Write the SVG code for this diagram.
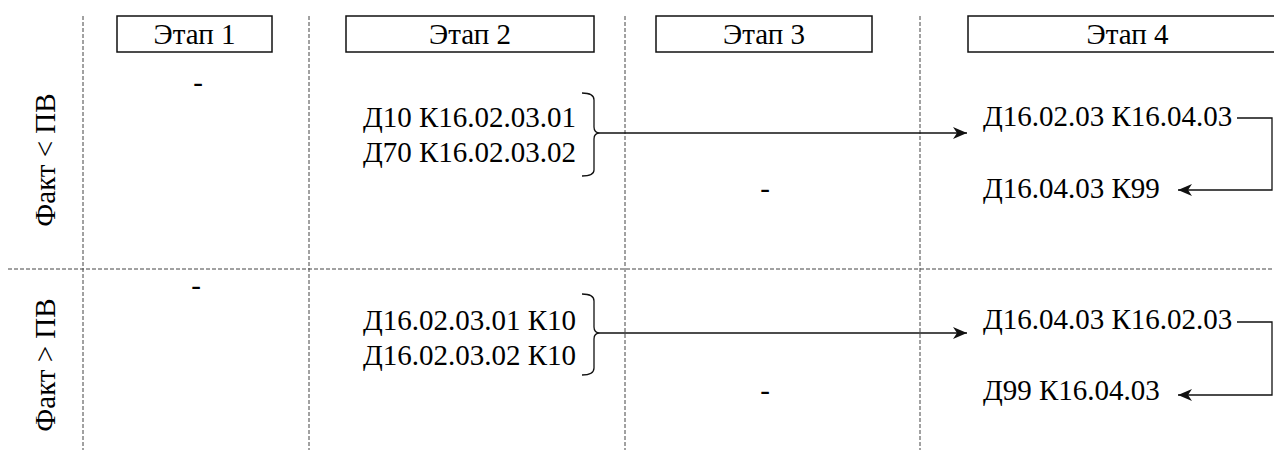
<svg xmlns="http://www.w3.org/2000/svg" width="1274" height="450" viewBox="0 0 1274 450">
<style>
text{font-family:'Liberation Serif','Times New Roman',Times,serif;font-size:29px;fill:#000}
.h{text-anchor:middle}
.box{fill:#fff;stroke:#111;stroke-width:1.5}
.grid{stroke:#444;stroke-width:1;stroke-dasharray:4 2;fill:none}
.ln{stroke:#111;stroke-width:1.3;fill:none}
</style>
<defs>
<marker id="ah" markerUnits="userSpaceOnUse" markerWidth="16" markerHeight="14" refX="15" refY="7" orient="auto">
<path d="M1,1 L15,7 L1,13 L5,7 Z" fill="#111"/>
</marker>
</defs>
<rect width="1274" height="450" fill="#fff"/>
<g id="grid">
<line class="grid" x1="83" y1="16" x2="83" y2="450"/>
<line class="grid" x1="309" y1="16" x2="309" y2="450"/>
<line class="grid" x1="625" y1="16" x2="625" y2="450"/>
<line class="grid" x1="920" y1="16" x2="920" y2="450"/>
<line class="grid" x1="8" y1="269" x2="1274" y2="269"/>
</g>
<g font-family="Liberation Serif, serif">
<g id="header1"><rect class="box" x="117" y="16" width="155" height="36"/><text class="h" x="194.5" y="44">Этап 1</text></g>
<g id="header2"><rect class="box" x="346" y="16" width="248" height="36"/><text class="h" x="470" y="44">Этап 2</text></g>
<g id="header3"><rect class="box" x="656" y="16" width="216" height="36"/><text class="h" x="764" y="44">Этап 3</text></g>
<g id="header4"><rect class="box" x="968" y="16" width="320" height="36"/><text class="h" x="1127.5" y="44">Этап 4</text></g>
<g id="row1label"><text class="h" transform="translate(55,160) rotate(-90)">Факт &lt; ПВ</text></g>
<g id="row2label"><text class="h" transform="translate(55,365) rotate(-90)">Факт &gt; ПВ</text></g>
<g id="r1s1"><text class="h" x="198" y="92">-</text></g>
<g id="r1s2"><text x="363" y="127">Д10 К16.02.03.01</text><text x="363" y="162">Д70 К16.02.03.02</text></g>
<g id="r1s3"><text class="h" x="765" y="198">-</text></g>
<g id="r1s4a"><text x="983" y="126">Д16.02.03 К16.04.03</text></g>
<g id="r1s4b"><text x="983" y="198">Д16.04.03 К99</text></g>
<g id="r2s1"><text class="h" x="196" y="295">-</text></g>
<g id="r2s2"><text x="363" y="330">Д16.02.03.01 К10</text><text x="363" y="365">Д16.02.03.02 К10</text></g>
<g id="r2s3"><text class="h" x="765" y="400">-</text></g>
<g id="r2s4a"><text x="983" y="329">Д16.04.03 К16.02.03</text></g>
<g id="r2s4b"><text x="983" y="400">Д99 К16.04.03</text></g>
</g>
<g id="connectors">
<path class="ln" d="M582,93 Q594,93 594,100 L594,127 Q594,133 600,133 Q594,133 594,139 L594,170 Q594,176 582,176"/>
<path class="ln" d="M600,133 H967" marker-end="url(#ah)"/>
<path class="ln" d="M1237,118 H1272 V190 H1178" marker-end="url(#ah)"/>
<path class="ln" d="M582,294 Q594,294 594,301 L594,327 Q594,333 600,333 Q594,333 594,339 L594,368 Q594,375 582,375"/>
<path class="ln" d="M600,333 H967" marker-end="url(#ah)"/>
<path class="ln" d="M1237,322 H1272 V395 H1178" marker-end="url(#ah)"/>
</g>
</svg>
